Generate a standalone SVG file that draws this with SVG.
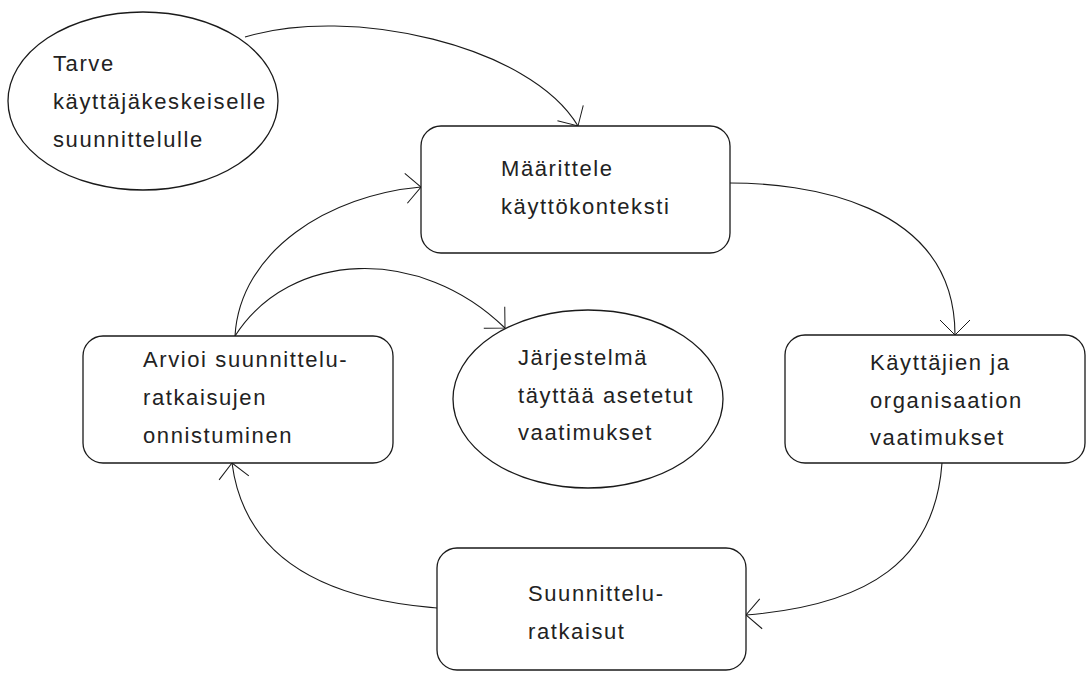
<svg xmlns="http://www.w3.org/2000/svg" width="1088" height="673" viewBox="0 0 1088 673">
<defs>
<style>
.n{fill:#fff;stroke:#1a1a1a;stroke-width:1.3}
.t{font-family:"Liberation Sans",Arial,sans-serif;font-size:22px;fill:#222;letter-spacing:1.6px}
.c{fill:none;stroke:#1a1a1a;stroke-width:1.1}
</style>
<marker id="ah" viewBox="-20 -20 24 40" refX="0" refY="0" markerWidth="24" markerHeight="40" markerUnits="userSpaceOnUse" orient="auto">
<path d="M-15,-15 L0,0 L-15,15" fill="none" stroke="#1a1a1a" stroke-width="1"/>
</marker>
</defs>
<rect width="1088" height="673" fill="#fff"/>
<g id="connectors">
<path class="c" d="M245,37 C350,5 530,45 578,126" marker-end="url(#ah)"/>
<path class="c" d="M730,183 C800,183 955,200 955,335" marker-end="url(#ah)"/>
<path class="c" d="M942,463 C935,560 870,605 746,615" marker-end="url(#ah)"/>
<path class="c" d="M437,608 C410,605 250,600 232,463" marker-end="url(#ah)"/>
<path class="c" d="M235,336 C240,250 330,195 421,187" marker-end="url(#ah)"/>
<path class="c" d="M235,336 C290,250 420,245 505,328" marker-end="url(#ah)"/>
</g>
<g id="tarve">
<ellipse class="n" cx="143" cy="101" rx="135" ry="89"/>
<text class="t" x="53" y="71">Tarve</text>
<text class="t" x="53" y="109">käyttäjäkeskeiselle</text>
<text class="t" x="53" y="147">suunnittelulle</text>
</g>
<g id="maarittele">
<rect class="n" x="421" y="126" width="309" height="127" rx="20"/>
<text class="t" x="501" y="176">Määrittele</text>
<text class="t" x="501" y="214">käyttökonteksti</text>
</g>
<g id="kayttajien">
<rect class="n" x="785" y="335" width="300" height="128" rx="20"/>
<text class="t" x="870" y="370">Käyttäjien ja</text>
<text class="t" x="870" y="408">organisaation</text>
<text class="t" x="870" y="445">vaatimukset</text>
</g>
<g id="jarjestelma">
<ellipse class="n" cx="588" cy="399" rx="135" ry="89"/>
<text class="t" x="518" y="365">Järjestelmä</text>
<text class="t" x="518" y="403">täyttää asetetut</text>
<text class="t" x="518" y="440">vaatimukset</text>
</g>
<g id="arvioi">
<rect class="n" x="83" y="336" width="310" height="127" rx="20"/>
<text class="t" x="143" y="367">Arvioi suunnittelu-</text>
<text class="t" x="143" y="405">ratkaisujen</text>
<text class="t" x="143" y="443">onnistuminen</text>
</g>
<g id="suunnittelu">
<rect class="n" x="437" y="548" width="309" height="122" rx="20"/>
<text class="t" x="528" y="601">Suunnittelu-</text>
<text class="t" x="528" y="639">ratkaisut</text>
</g>
</svg>
